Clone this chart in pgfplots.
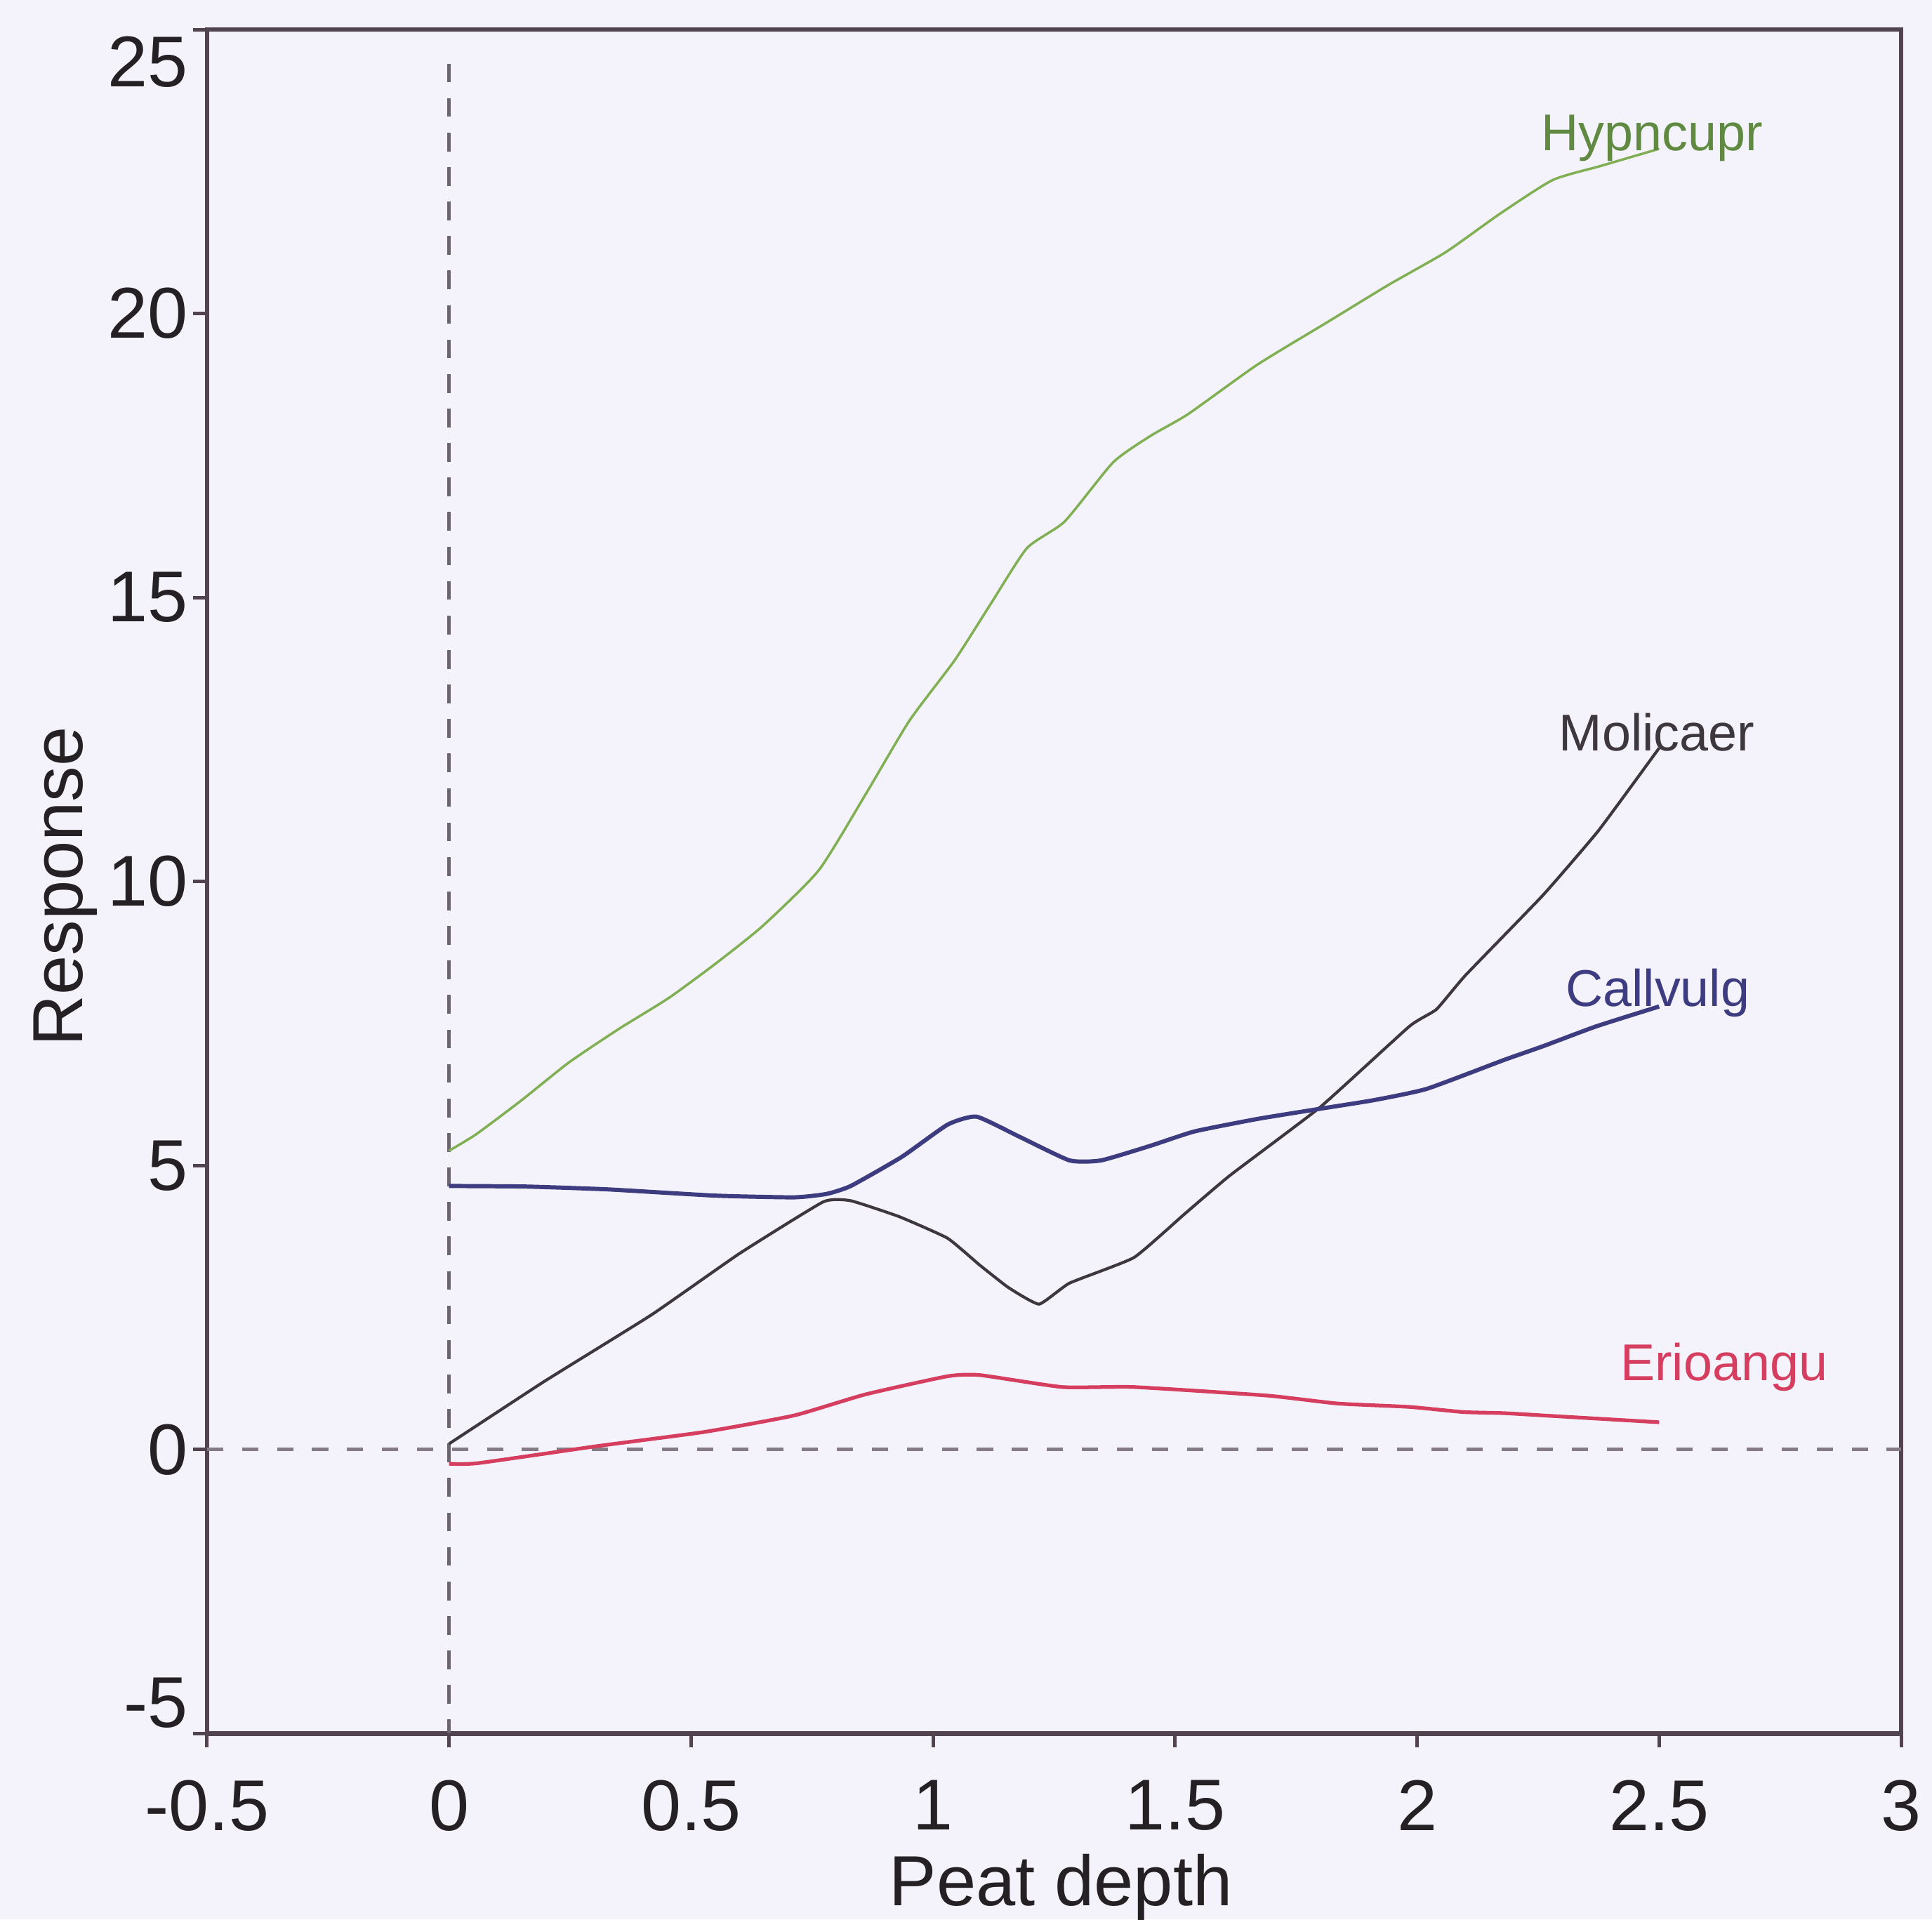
\documentclass[border=0pt]{standalone}
\usepackage{fontspec}
\setmainfont{Liberation Sans}
\usepackage{pgfplots}
\pgfplotsset{compat=1.18}
\definecolor{bg}{RGB}{244,243,251}
\definecolor{framecol}{RGB}{82,68,78}
\definecolor{txt}{RGB}{36,32,36}
\definecolor{hyp}{RGB}{128,175,84}
\definecolor{hyplab}{RGB}{96,138,66}
\definecolor{mol}{RGB}{62,56,62}
\definecolor{cal}{RGB}{62,60,128}
\definecolor{eri}{RGB}{214,62,96}
\definecolor{dashc}{RGB}{110,100,112}
\begin{document}
\begin{tikzpicture}
\path[use as bounding box, fill=bg] (-42pt,-37.75pt) rectangle (350pt,351.75pt);
\begin{axis}[
  scale only axis, width=343.75pt, height=345.75pt,
  xmin=-0.5, xmax=3, ymin=-5, ymax=25,
  axis line style={framecol, line width=0.9pt},
  tick style={framecol, line width=0.7pt},
  tick align=outside, major tick length=2.8pt,
  xtick pos=left, ytick pos=left,
  xtick={-0.5,0,0.5,1,1.5,2,2.5,3},
  xticklabels={-0.5,0,0.5,1,1.5,2,2.5,3},
  ytick={-5,0,5,10,15,20,25},
  yticklabels={\raisebox{1.2pt}[0pt][0pt]{-5},0,5,10,15,20,\raisebox{-11.6pt}[0pt][0pt]{25}},
  ticklabel style={font=\fontsize{14.6}{17}\selectfont, text=txt},
  xticklabel style={anchor=north, inner sep=0pt, yshift=-6.5pt},
  yticklabel style={anchor=east, inner sep=0pt, xshift=-0.9pt},
  xlabel={Peat depth}, ylabel={Response},
  label style={font=\fontsize{14.4}{17}\selectfont, text=txt},
  xlabel style={at={(axis description cs:0.504,-0.1012)}, anchor=base},
  ylabel style={at={(axis description cs:-0.0735,0.497)}, anchor=base},
  clip=false,
]
% reference lines
\addplot[dashc, line width=0.6pt, dash pattern=on 3.8pt off 3.2pt] coordinates {(0,24.4) (0,-5)};
\addplot[dashc!85, line width=0.7pt, dash pattern=on 3.3pt off 3.8pt] coordinates {(-0.5,0) (3,0)};
% Hypncupr
\addplot[hyp, line width=0.5pt, smooth, tension=0.35] coordinates {
(0,5.26) (0.056,5.55) (0.15,6.15) (0.247,6.81) (0.35,7.4) (0.454,7.95) (0.55,8.55)
(0.647,9.21) (0.764,10.2) (0.861,11.54) (0.951,12.83) (1.045,13.9) (1.12,14.9)
(1.194,15.87) (1.272,16.34) (1.372,17.38) (1.45,17.85) (1.527,18.23) (1.67,19.1)
(1.815,19.85) (1.94,20.5) (2.059,21.08) (2.17,21.75) (2.28,22.35) (2.38,22.6) (2.5,22.9)};
% Molicaer
\addplot[mol, line width=0.6pt, smooth, tension=0.25] coordinates {
(0,0.1) (0.197,1.2) (0.418,2.37) (0.6,3.45) (0.773,4.36) (0.83,4.38) (0.93,4.1)
(1.03,3.72) (1.096,3.25) (1.156,2.85) (1.219,2.56) (1.282,2.93) (1.415,3.38)
(1.52,4.15) (1.614,4.83) (1.80,6.03) (1.984,7.45) (2.04,7.75) (2.10,8.35) (2.26,9.76)
(2.375,10.9) (2.5,12.35)};
% Callvulg
\addplot[cal, line width=0.85pt, smooth, tension=0.3] coordinates {
(0,4.64) (0.158,4.63) (0.328,4.58) (0.55,4.47) (0.713,4.44) (0.78,4.5) (0.83,4.64)
(0.935,5.15) (1.03,5.72) (1.09,5.86) (1.18,5.5) (1.282,5.09) (1.347,5.09) (1.45,5.35)
(1.54,5.6) (1.67,5.82) (1.80,6.0) (1.91,6.15) (2.02,6.35) (2.18,6.86) (2.26,7.1)
(2.37,7.45) (2.5,7.8)};
% Erioangu
\addplot[eri, line width=0.75pt, smooth, tension=0.3] coordinates {
(0,-0.25) (0.06,-0.24) (0.306,0.06) (0.528,0.31) (0.713,0.6) (0.86,0.97) (1.03,1.29)
(1.097,1.31) (1.267,1.1) (1.415,1.1) (1.69,0.95) (1.836,0.81) (1.984,0.75)
(2.095,0.66) (2.18,0.64) (2.3,0.58) (2.5,0.48)};
% curve labels
\node[anchor=base, text=hyplab, font=\fontsize{10.5}{12}\selectfont] at (axis cs:2.485,22.87) {Hypncupr};
\node[anchor=base, text=mol, font=\fontsize{10.5}{12}\selectfont] at (axis cs:2.495,12.3) {Molicaer};
\node[anchor=base, text=cal, font=\fontsize{10.5}{12}\selectfont] at (axis cs:2.497,7.8) {Callvulg};
\node[anchor=base, text=eri, font=\fontsize{10.5}{12}\selectfont] at (axis cs:2.634,1.22) {Erioangu};
\end{axis}
\end{tikzpicture}
\end{document}
